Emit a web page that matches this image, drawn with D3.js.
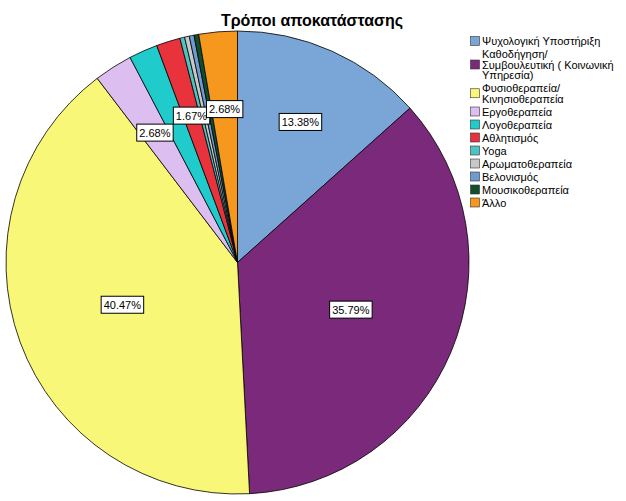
<!DOCTYPE html>
<html>
<head>
<meta charset="utf-8">
<script src="https://cdn.jsdelivr.net/npm/d3@7"></script>
<style>
  body { margin: 0; background: #fff; }
  svg { display: block; font-family: "Liberation Sans", Arial, sans-serif; }
</style>
</head>
<body>
<svg id="chart" width="626" height="501"></svg>
<script>
// categories, legend lines (wrapped as in the original), values in %
var categories = ["Ψυχολογική Υποστήριξη", "Καθοδήγηση/ Συμβουλευτική ( Κοινωνική Υπηρεσία)",
  "Φυσιοθεραπεία/ Κινησιοθεραπεία", "Εργοθεραπεία", "Λογοθεραπεία", "Αθλητισμός", "Yoga",
  "Αρωματοθεραπεία", "Βελονισμός", "Μουσικοθεραπεία", "Άλλο"];
var legendLines = [["Ψυχολογική Υποστήριξη"], ["Καθοδήγηση/", "Συμβουλευτική ( Κοινωνική", "Υπηρεσία)"],
  ["Φυσιοθεραπεία/", "Κινησιοθεραπεία"], ["Εργοθεραπεία"], ["Λογοθεραπεία"], ["Αθλητισμός"], ["Yoga"],
  ["Αρωματοθεραπεία"], ["Βελονισμός"], ["Μουσικοθεραπεία"], ["Άλλο"]];
var values = [13.38, 35.79, 40.47, 2.68, 2.01, 1.67, 0.33, 0.33, 0.33, 0.33, 2.68];
var labels = ["13.38%", "35.79%", "40.47%", "2.68%", null, "1.67%", null, null, null, null, "2.68%"];
var colors = ["#79a6d6", "#7b2a7b", "#f9f777", "#dcbff0", "#1fcbcb", "#e8323c", "#4fc2c2",
  "#c8c8c8", "#6e9bd2", "#0f4f2c", "#f7981e"];

var svg = d3.select("#chart");
var cx = 237.5, cy = 262.5, r = 231.5;

svg.append("text")
  .attr("x", 312).attr("y", 26)
  .attr("text-anchor", "middle")
  .style("font-size", "16px").style("font-weight", "bold")
  .text("Τρόποι αποκατάστασης");

var pie = d3.pie().sort(null).value(function(d) { return d; });
var arcs = pie(values);
var arc = d3.arc().innerRadius(0).outerRadius(r);

var g = svg.append("g").attr("transform", "translate(" + cx + "," + cy + ")");

g.selectAll("path.slice")
  .data(arcs)
  .enter().append("path")
  .attr("class", "slice")
  .attr("d", arc)
  .attr("fill", function(d, i) { return colors[i]; })
  .attr("stroke", "#000")
  .attr("stroke-width", 0.8);

// labels: big slices sit closer to centre
var lab = g.selectAll("g.lab")
  .data(arcs.filter(function(d, i) { return labels[i]; }))
  .enter().append("g")
  .attr("class", "lab")
  .attr("transform", function(d) {
    var a = (d.startAngle + d.endAngle) / 2;
    var rr = d.value > 30 ? 0.53 * r : 0.665 * r;
    return "translate(" + (Math.sin(a) * rr) + "," + (-Math.cos(a) * rr) + ")";
  });

lab.append("text")
  .attr("text-anchor", "middle")
  .attr("dy", "0.36em")
  .style("font-size", "11px")
  .text(function(d) { return labels[d.index]; })
  .each(function() {
    var b = this.getBBox();
    d3.select(this.parentNode).insert("rect", "text")
      .attr("x", b.x - 2.5).attr("y", -8.5)
      .attr("width", b.width + 5).attr("height", 17)
      .attr("fill", "#fff").attr("stroke", "#000").attr("stroke-width", 1);
  });

// legend
var lx = 470, ly = 35, lineH = 10.5, gap = 2.5;
legendLines.forEach(function(lines, i) {
  var h = lines.length * lineH + gap;
  var item = svg.append("g").attr("transform", "translate(" + lx + "," + ly + ")");
  item.append("rect")
    .attr("x", 0.5).attr("y", h / 2 - 5)
    .attr("width", 9).attr("height", 9)
    .attr("fill", colors[i]).attr("stroke", "#333").attr("stroke-width", 0.6);
  lines.forEach(function(t, k) {
    item.append("text")
      .attr("x", 12).attr("y", gap / 2 + lineH * k + lineH / 2)
      .attr("dy", "0.36em")
      .style("font-size", "11px")
      .text(t);
  });
  ly += h;
});
</script>
</body>
</html>
